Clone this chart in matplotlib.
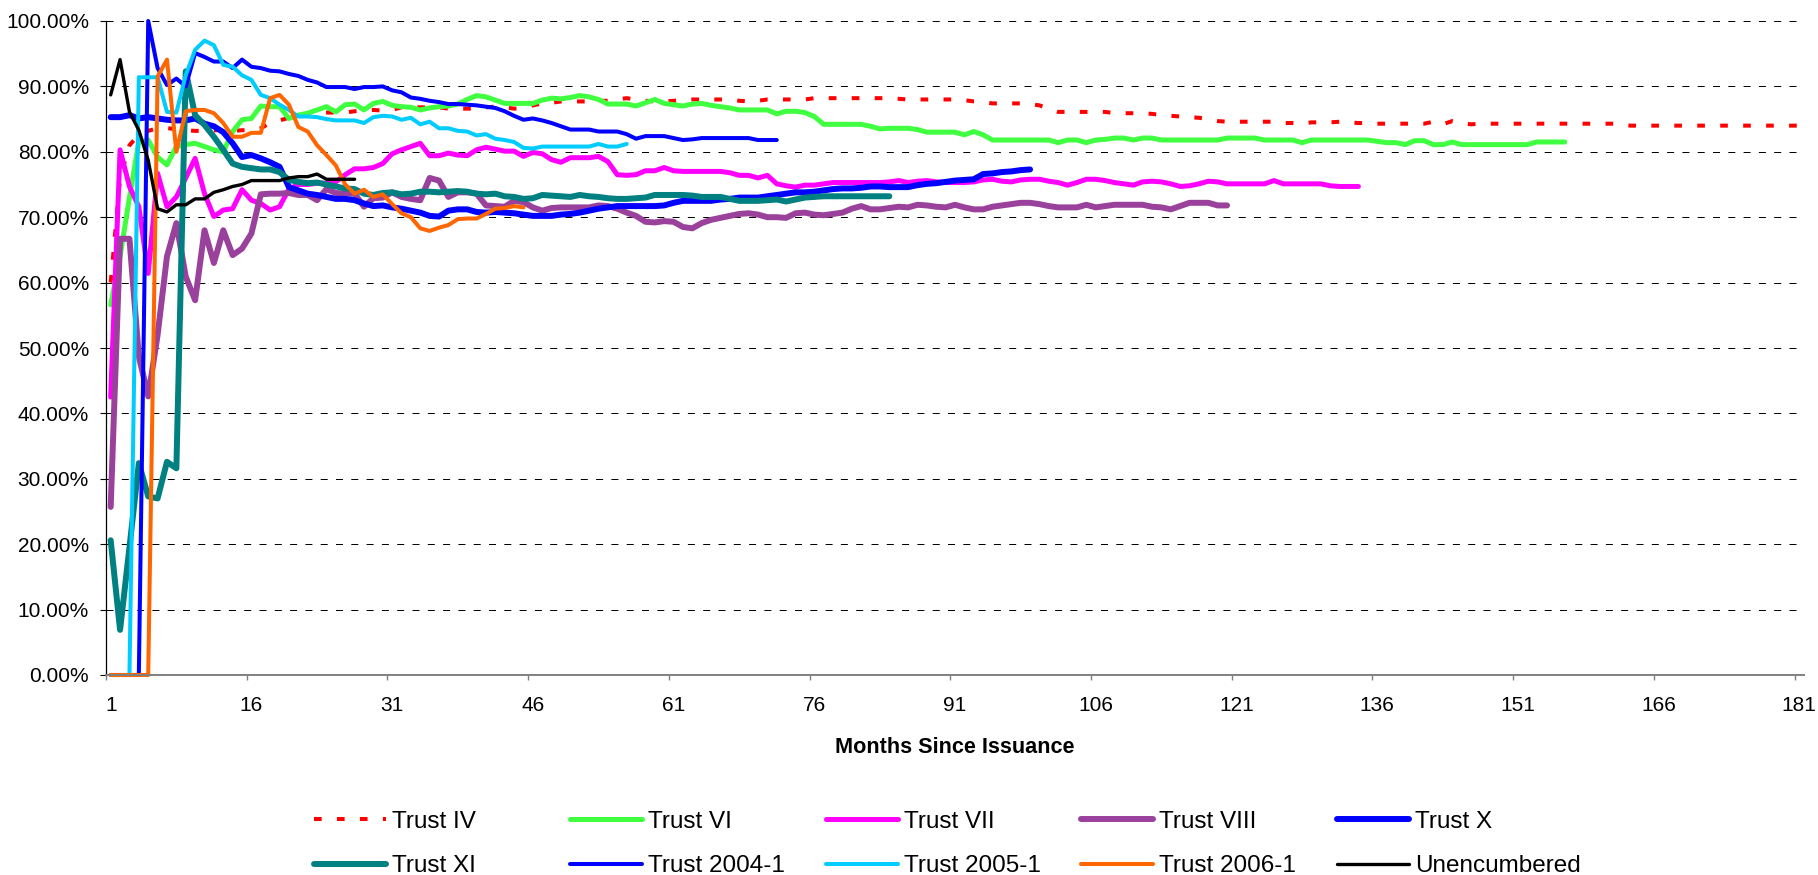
"""Trust performance by months since issuance (line chart recreation)."""

import matplotlib

matplotlib.use("Agg")
import matplotlib.pyplot as plt
import numpy as np
from matplotlib.ticker import FuncFormatter


OUTPUT_PATH = "out.png"
FIG_W_PX, FIG_H_PX, DPI = 1818, 875, 100

# Plot-area edges in pixels (left, right, top, bottom).
AX_LEFT, AX_RIGHT, AX_TOP, AX_BOTTOM = 106, 1804, 21, 675

TICK_MONTHS = [1, 16, 31, 46, 61, 76, 91, 106, 121, 136, 151, 166, 181]
LAST_MONTH = 181

# Monthly values in percent, month 1 onwards.
TRUST_IV = [
    60.0, 76.0, 81.0, 82.6, 83.2, 83.6, 83.6, 83.5, 83.3, 83.2,
    83.2, 83.3, 83.3, 83.2, 83.3, 83.3, 83.6, 84.4, 84.8, 85.2,
    85.5, 85.7, 85.9, 86.0, 86.0, 86.0, 86.2, 86.3, 86.4, 86.3,
    86.4, 86.8, 86.8, 86.8, 86.8, 86.8, 86.6, 86.6, 86.6, 86.6,
    86.8, 86.9, 86.8, 86.6, 86.7, 87.1, 87.4, 87.5, 87.7, 87.7,
    87.7, 87.7, 87.8, 87.8, 88.0, 88.2, 88.0, 87.8, 87.7, 87.7,
    87.8, 87.9, 88.0, 88.0, 88.0, 88.0, 88.0, 87.8, 87.7, 87.8,
    88.0, 88.0, 88.0, 88.0, 88.0, 88.2, 88.2, 88.2, 88.2, 88.2,
    88.2, 88.2, 88.2, 88.2, 88.1, 88.0, 88.0, 88.0, 88.0, 88.0,
    88.0, 87.9, 87.7, 87.6, 87.4, 87.4, 87.4, 87.4, 87.3, 87.1,
    86.6, 86.1, 86.1, 86.1, 86.1, 86.1, 86.1, 85.9, 85.9, 85.9,
    85.9, 85.8, 85.6, 85.5, 85.4, 85.3, 85.2, 85.0, 84.7, 84.6,
    84.6, 84.6, 84.6, 84.6, 84.6, 84.4, 84.4, 84.3, 84.5, 84.5,
    84.5, 84.6, 84.5, 84.4, 84.4, 84.3, 84.3, 84.3, 84.3, 84.3,
    84.3, 84.6, 84.2, 84.7, 84.4, 84.2, 84.3, 84.3, 84.3, 84.3,
    84.3, 84.3, 84.3, 84.3, 84.3, 84.3, 84.3, 84.3, 84.3, 84.3,
    84.3, 84.2, 84.0, 84.0, 84.0, 84.0, 84.0, 84.0, 84.0, 84.0,
    84.0, 84.0, 84.0, 84.0, 84.0, 84.0, 84.0, 84.0, 84.0, 84.0,
    84.0,
]

TRUST_VI = [
    56.6, 64.0, 73.0, 81.5, 81.8, 79.2, 78.0, 80.8, 81.1, 81.3,
    80.8, 80.3, 80.0, 83.1, 84.9, 85.1, 87.0, 86.9, 86.9, 85.1,
    85.6, 85.9, 86.4, 86.9, 86.1, 87.2, 87.3, 86.4, 87.4, 87.7,
    87.1, 86.9, 86.8, 86.4, 86.7, 86.9, 87.0, 87.3, 88.0, 88.6,
    88.4, 87.9, 87.4, 87.4, 87.4, 87.4, 87.9, 88.2, 88.1, 88.3,
    88.6, 88.4, 88.0, 87.3, 87.3, 87.3, 87.0, 87.5, 88.0, 87.4,
    87.2, 87.0, 87.3, 87.4, 87.1, 86.9, 86.7, 86.4, 86.4, 86.4,
    86.4, 85.8, 86.2, 86.2, 86.0, 85.4, 84.2, 84.2, 84.2, 84.2,
    84.2, 83.9, 83.5, 83.6, 83.6, 83.6, 83.4, 83.0, 83.0, 83.0,
    83.0, 82.6, 83.1, 82.6, 81.8, 81.8, 81.8, 81.8, 81.8, 81.8,
    81.8, 81.4, 81.8, 81.8, 81.4, 81.8, 81.9, 82.1, 82.1, 81.8,
    82.1, 82.1, 81.8, 81.8, 81.8, 81.8, 81.8, 81.8, 81.8, 82.1,
    82.1, 82.1, 82.1, 81.8, 81.8, 81.8, 81.8, 81.4, 81.8, 81.8,
    81.8, 81.8, 81.8, 81.8, 81.8, 81.6, 81.4, 81.4, 81.1, 81.7,
    81.7, 81.1, 81.1, 81.5, 81.1, 81.1, 81.1, 81.1, 81.1, 81.1,
    81.1, 81.1, 81.5, 81.5, 81.5, 81.5,
]

TRUST_VII = [
    42.5, 80.3, 74.7, 71.6, 61.4, 76.7, 71.6, 73.1, 76.0, 79.0,
    73.6, 70.1, 71.1, 71.3, 74.2, 72.6, 72.1, 71.1, 71.6, 74.3,
    75.0, 75.0, 75.2, 75.2, 75.4, 76.5, 77.4, 77.4, 77.6, 78.2,
    79.7, 80.3, 80.8, 81.3, 79.4, 79.4, 79.8, 79.5, 79.4, 80.3,
    80.7, 80.4, 80.1, 80.1, 79.3, 79.9, 79.7, 78.8, 78.4, 79.1,
    79.1, 79.1, 79.3, 78.5, 76.5, 76.4, 76.5, 77.1, 77.1, 77.6,
    77.1, 77.0, 77.0, 77.0, 77.0, 77.0, 76.8, 76.4, 76.4, 76.0,
    76.4, 75.1, 74.8, 74.6, 74.9, 74.9, 75.1, 75.3, 75.3, 75.3,
    75.3, 75.3, 75.3, 75.4, 75.6, 75.3, 75.5, 75.6, 75.4, 75.3,
    75.3, 75.3, 75.4, 75.7, 75.8, 75.5, 75.4, 75.7, 75.8, 75.8,
    75.5, 75.3, 74.9, 75.3, 75.8, 75.8, 75.6, 75.3, 75.1, 74.9,
    75.4, 75.5, 75.4, 75.1, 74.7, 74.8, 75.1, 75.5, 75.4, 75.1,
    75.1, 75.1, 75.1, 75.1, 75.6, 75.1, 75.1, 75.1, 75.1, 75.1,
    74.8, 74.7, 74.7, 74.7,
]

TRUST_VIII = [
    25.7, 66.7, 66.7, 48.7, 42.6, 52.0, 64.0, 69.1, 60.9, 57.3,
    68.0, 63.0, 68.0, 64.2, 65.2, 67.5, 73.5, 73.6, 73.6, 73.7,
    73.4, 73.4, 72.6, 74.3, 73.7, 73.6, 73.6, 71.6, 72.9, 73.0,
    73.8, 73.1, 72.8, 72.6, 76.0, 75.6, 73.1, 73.8, 73.8, 73.6,
    71.8, 71.7, 71.6, 72.5, 72.3, 71.5, 71.0, 71.4, 71.5, 71.5,
    71.5, 71.5, 71.8, 71.7, 71.3, 70.7, 70.2, 69.3, 69.2, 69.4,
    69.3, 68.5, 68.3, 69.1, 69.6, 69.9, 70.2, 70.5, 70.6, 70.4,
    70.0, 70.0, 69.9, 70.6, 70.7, 70.4, 70.3, 70.5, 70.7, 71.3,
    71.7, 71.2, 71.2, 71.4, 71.6, 71.5, 71.9, 71.8, 71.6, 71.5,
    71.9, 71.5, 71.2, 71.2, 71.6, 71.8, 72.0, 72.2, 72.2, 72.0,
    71.7, 71.5, 71.5, 71.5, 71.9, 71.5, 71.7, 71.9, 71.9, 71.9,
    71.9, 71.6, 71.5, 71.2, 71.7, 72.2, 72.2, 72.2, 71.8, 71.8,
]

TRUST_X = [
    85.3, 85.3, 85.6, 85.1, 85.3, 85.1, 84.9, 84.8, 84.8, 85.1,
    84.3, 83.9, 83.0, 81.3, 79.2, 79.5, 79.0, 78.4, 77.7, 74.6,
    74.1, 73.6, 73.4, 73.1, 72.8, 72.8, 72.6, 72.1, 71.7, 71.8,
    71.5, 71.3, 71.0, 70.7, 70.2, 70.1, 71.0, 71.2, 71.2, 70.8,
    70.7, 70.8, 70.7, 70.6, 70.4, 70.2, 70.2, 70.2, 70.4, 70.5,
    70.7, 71.0, 71.3, 71.5, 71.7, 71.7, 71.7, 71.7, 71.7, 71.8,
    72.2, 72.5, 72.5, 72.5, 72.5, 72.7, 72.8, 73.0, 73.0, 73.0,
    73.2, 73.4, 73.6, 73.8, 73.8, 73.9, 74.1, 74.3, 74.4, 74.4,
    74.5, 74.7, 74.7, 74.6, 74.6, 74.6, 74.9, 75.1, 75.2, 75.4,
    75.6, 75.7, 75.8, 76.6, 76.7, 76.9, 77.0, 77.2, 77.3,
]

TRUST_XI = [
    20.6, 6.9, 19.5, 32.4, 27.3, 27.0, 32.6, 31.6, 92.3, 85.6,
    84.1, 82.3, 80.3, 78.2, 77.7, 77.5, 77.3, 77.3, 76.9, 75.7,
    75.4, 75.2, 75.3, 75.0, 74.7, 74.4, 74.3, 73.6, 73.4, 73.7,
    73.8, 73.5, 73.6, 73.9, 73.9, 73.8, 73.9, 74.0, 73.9, 73.6,
    73.5, 73.6, 73.2, 73.1, 72.8, 72.9, 73.4, 73.3, 73.2, 73.1,
    73.4, 73.2, 73.1, 72.9, 72.8, 72.8, 72.9, 73.0, 73.4, 73.4,
    73.4, 73.4, 73.3, 73.1, 73.1, 73.1, 72.8, 72.5, 72.5, 72.5,
    72.6, 72.7, 72.4, 72.7, 73.0, 73.1, 73.2, 73.2, 73.2, 73.2,
    73.2, 73.2, 73.2, 73.2,
]

TRUST_2004_1 = [
    0.0, 0.0, 0.0, 0.0, 100.0, 92.8, 90.2, 91.2, 90.0, 95.1,
    94.5, 93.8, 93.8, 92.8, 94.1, 93.0, 92.8, 92.4, 92.3, 91.9,
    91.6, 91.0, 90.6, 89.9, 89.9, 89.9, 89.6, 89.9, 89.9, 90.0,
    89.4, 89.1, 88.3, 88.1, 87.8, 87.6, 87.3, 87.3, 87.2, 87.1,
    86.9, 86.7, 86.2, 85.5, 84.9, 85.1, 84.8, 84.4, 83.9, 83.4,
    83.4, 83.4, 83.1, 83.1, 83.1, 82.7, 82.0, 82.4, 82.4, 82.4,
    82.1, 81.8, 81.9, 82.1, 82.1, 82.1, 82.1, 82.1, 82.1, 81.8,
    81.8, 81.8,
]

TRUST_2005_1 = [
    0.0, 0.0, 0.0, 91.4, 91.4, 91.4, 86.1, 86.0, 91.7, 95.6,
    97.0, 96.3, 93.3, 93.0, 91.7, 91.0, 88.7, 88.2, 87.2, 86.4,
    85.4, 85.4, 85.3, 85.0, 84.8, 84.8, 84.8, 84.4, 85.3, 85.5,
    85.4, 84.9, 85.2, 84.2, 84.6, 83.6, 83.6, 83.2, 83.1, 82.5,
    82.7, 82.0, 81.8, 81.5, 80.6, 80.5, 80.8, 80.8, 80.8, 80.8,
    80.8, 80.8, 81.2, 80.8, 80.8, 81.2,
]

TRUST_2006_1 = [
    0.0, 0.0, 0.0, 0.0, 0.0, 91.5, 94.1, 80.0, 86.2, 86.4,
    86.4, 85.9, 84.4, 82.3, 82.3, 82.9, 82.9, 88.2, 88.7, 87.2,
    83.8, 83.1, 81.0, 79.5, 77.9, 75.0, 73.6, 74.2, 73.1, 73.5,
    72.0, 70.6, 70.0, 68.3, 67.9, 68.4, 68.8, 69.7, 69.8, 69.8,
    70.5, 71.3, 71.4, 71.7, 71.5,
]

UNENCUMBERED = [
    88.7, 94.1, 86.1, 83.3, 78.7, 71.3, 70.8, 71.9, 71.9, 72.8,
    72.8, 73.8, 74.2, 74.7, 75.0, 75.6, 75.6, 75.6, 75.6, 76.0,
    76.2, 76.2, 76.6, 75.8, 75.8, 75.8, 75.8,
]

SERIES = [
    ("Trust IV", TRUST_IV),
    ("Trust VI", TRUST_VI),
    ("Trust VII", TRUST_VII),
    ("Trust VIII", TRUST_VIII),
    ("Trust X", TRUST_X),
    ("Trust XI", TRUST_XI),
    ("Trust 2004-1", TRUST_2004_1),
    ("Trust 2005-1", TRUST_2005_1),
    ("Trust 2006-1", TRUST_2006_1),
    ("Unencumbered", UNENCUMBERED),
]

# Line styles (width in points).
STYLES = {
    "Trust IV": dict(color="#FF0000", lw=2.9, dashes=(1.9, 3.8)),
    "Trust VI": dict(color="#40FF40", lw=3.6),
    "Trust VII": dict(color="#FF00FF", lw=3.6),
    "Trust VIII": dict(color="#9A419C", lw=4.3),
    "Trust X": dict(color="#0000FF", lw=4.3),
    "Trust XI": dict(color="#008080", lw=4.3),
    "Trust 2004-1": dict(color="#0000FF", lw=2.9),
    "Trust 2005-1": dict(color="#00CCFF", lw=2.9),
    "Trust 2006-1": dict(color="#FF6600", lw=2.9),
    "Unencumbered": dict(color="#000000", lw=2.4),
}

# Left edge (px) of each legend column's handle.
LEGEND_COLUMN_PX = [314, 570, 826, 1081, 1337]
LEGEND_CENTER_Y_PX = 844


def main() -> None:
    plt.rcParams["font.family"] = ["Liberation Sans", "DejaVu Sans"]

    fig = plt.figure(figsize=(FIG_W_PX / DPI, FIG_H_PX / DPI), dpi=DPI)
    ax = fig.add_axes([
        AX_LEFT / FIG_W_PX,
        1 - AX_BOTTOM / FIG_H_PX,
        (AX_RIGHT - AX_LEFT) / FIG_W_PX,
        (AX_BOTTOM - AX_TOP) / FIG_H_PX,
    ])

    handles = []
    for label, values in SERIES:
        style = STYLES[label]
        months = np.arange(1, len(values) + 1)
        line, = ax.plot(
            months, values, label=label, color=style["color"], linewidth=style["lw"],
            solid_capstyle="round", solid_joinstyle="round",
            dash_capstyle="butt", clip_on=False,
        )
        if "dashes" in style:
            line.set_dashes(style["dashes"])
        handles.append(line)

    ax.set_xlim(0.5, LAST_MONTH + 0.5)
    ax.set_ylim(0, 100)

    # Category-style axis: labels at month centres, tick marks on boundaries.
    ax.set_xticks(TICK_MONTHS)
    ax.set_xticklabels([str(m) for m in TICK_MONTHS])
    ax.set_xticks([m - 0.5 for m in TICK_MONTHS], minor=True)
    ax.tick_params(axis="x", which="major", length=0, pad=15, labelsize=15)
    ax.tick_params(axis="x", which="minor", length=3.6, width=1.0,
                   color="#808080", direction="out")

    ax.set_yticks(range(0, 101, 10))
    ax.yaxis.set_major_formatter(FuncFormatter(lambda v, _: f"{v:.2f}%"))
    ax.tick_params(axis="y", length=4.3, width=0.8, color="black", pad=8, labelsize=15)

    ax.set_axisbelow(True)
    ax.yaxis.grid(True, color="black", linewidth=0.72, linestyle=(0, (7, 8.3)))

    for side in ("top", "right"):
        ax.spines[side].set_visible(False)
    ax.spines["left"].set_color("black")
    ax.spines["left"].set_linewidth(0.9)
    ax.spines["bottom"].set_color("#808080")
    ax.spines["bottom"].set_linewidth(1.4)

    ax.set_xlabel("Months Since Issuance", fontsize=15.6, fontweight="bold")
    ax.xaxis.set_label_coords(0.5, -0.0954)

    labels = [label for label, _ in SERIES]
    for col, x_px in enumerate(LEGEND_COLUMN_PX):
        fig.legend(
            [handles[col], handles[col + 5]],
            [labels[col], labels[col + 5]],
            loc="center left",
            bbox_to_anchor=(x_px / FIG_W_PX, 1 - LEGEND_CENTER_Y_PX / FIG_H_PX),
            frameon=False, fontsize=17.5, handlelength=2.95, handletextpad=0.25,
            labelspacing=0.92, borderpad=0, borderaxespad=0,
        )

    fig.savefig(OUTPUT_PATH, dpi=DPI)
    plt.close(fig)


if __name__ == "__main__":
    main()
